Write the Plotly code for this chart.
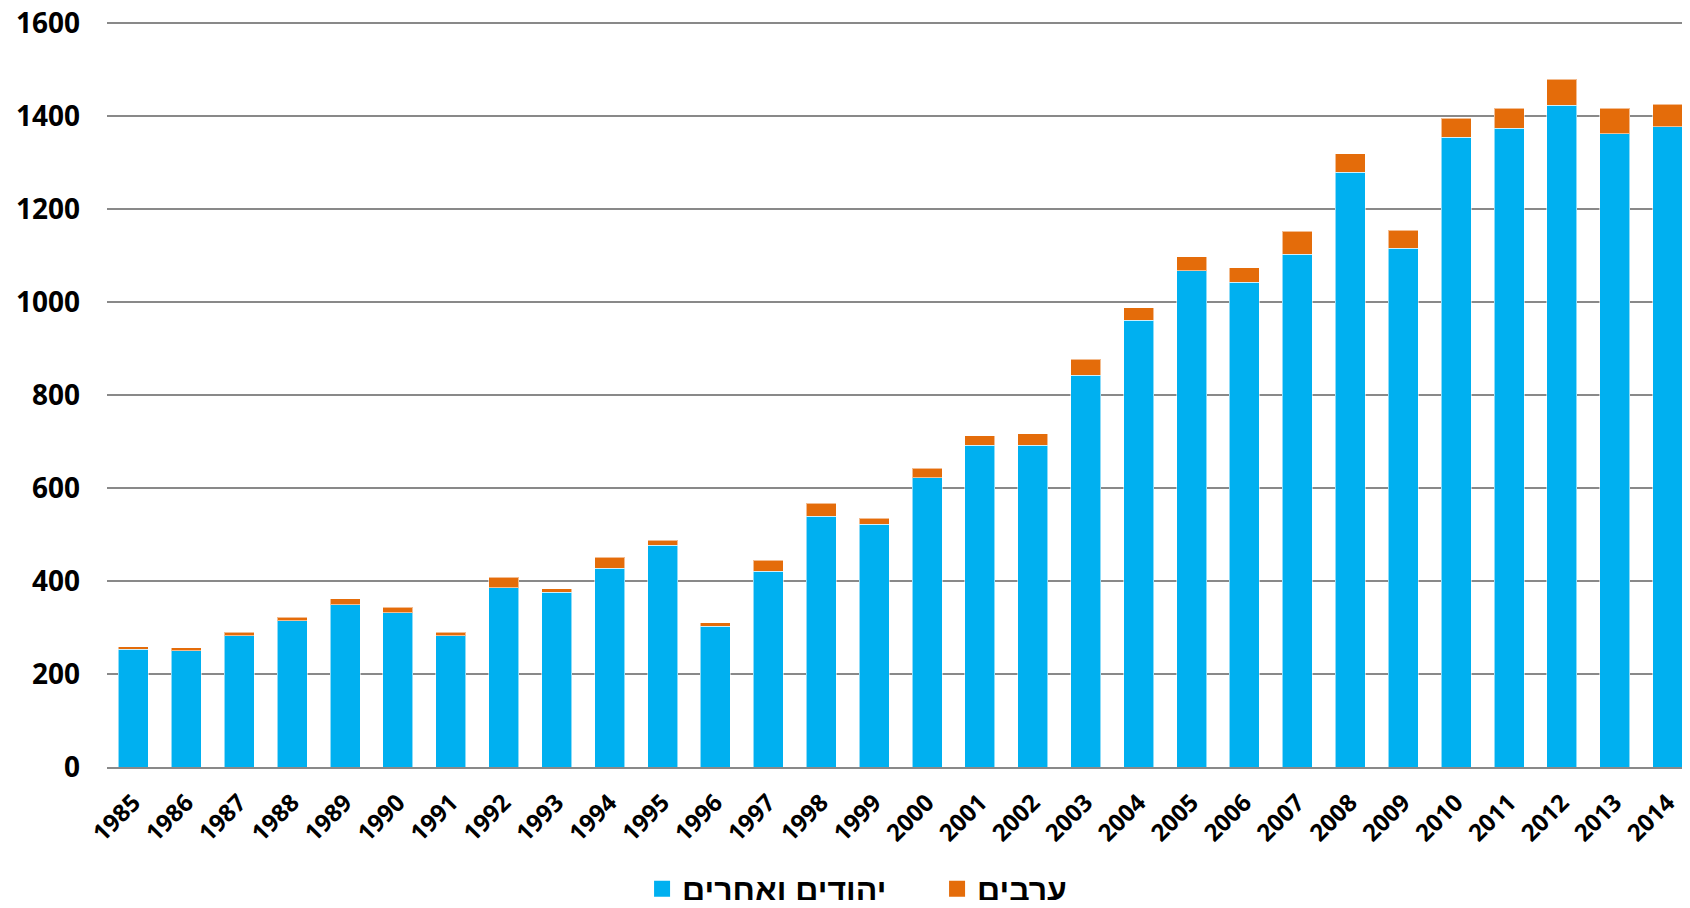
import plotly.graph_objects as go

years = [str(y) for y in range(1985, 2015)]
jews_others = [253, 250, 282, 314, 349, 332, 282, 385, 376, 427,
               477, 303, 421, 539, 522, 622, 692, 692, 842, 960,
               1067, 1042, 1102, 1279, 1115, 1354, 1373, 1423, 1361, 1376]
totals = [259, 256, 290, 322, 362, 344, 290, 408, 383, 451,
          488, 310, 444, 567, 535, 642, 712, 716, 877, 987,
          1097, 1073, 1152, 1318, 1154, 1395, 1416, 1479, 1416, 1425]
arabs = [t - j for t, j in zip(totals, jews_others)]

name_jews = "יהודים ואחרים"
name_arabs = "ערבים"

BLUE = "#00B0F0"
ORANGE = "#E46C0A"
GRID = "#898989"
FONT = "Open Sans, Liberation Sans, DejaVu Sans, sans-serif"
LEGFONT = "Liberation Sans, DejaVu Sans, sans-serif"

fig = go.Figure()
fig.add_trace(go.Bar(x=years, y=jews_others, name=name_jews, showlegend=False,
                     marker=dict(color=BLUE, line=dict(color="rgba(255,255,255,0.55)", width=1))))
fig.add_trace(go.Bar(x=years, y=arabs, name=name_arabs, showlegend=False,
                     marker=dict(color=ORANGE, line=dict(color="rgba(255,255,255,0.55)", width=1))))
# legend entries with larger square swatches
for nm, col in [(name_jews, BLUE), (name_arabs, ORANGE)]:
    fig.add_trace(go.Scatter(x=[None], y=[None], mode="markers", name=nm, showlegend=True,
                             marker=dict(symbol="square", size=20, color=col)))

fig.update_layout(
    barmode="stack",
    bargap=0.433,
    width=1674, height=892,
    margin=dict(l=99, r=0, t=12, b=133, autoexpand=False),
    paper_bgcolor="white", plot_bgcolor="white",
    font=dict(family=FONT, color="black"),
    showlegend=True,
    legend=dict(orientation="h", xref="container", yref="container",
                x=0.555, xanchor="center", y=0.0123, yanchor="middle",
                entrywidth=250, entrywidthmode="pixels",
                font=dict(size=32, family=LEGFONT, color="black", weight="bold"),
                itemsizing="trace", traceorder="normal"),
    xaxis=dict(type="category", range=[-0.5, 29.27], showgrid=False,
               showline=True, linecolor=GRID, linewidth=2,
               tickangle=-45, ticks="", ticklabelstandoff=10,
               tickfont=dict(size=24, family=FONT, color="black", weight="bold")),
    yaxis=dict(range=[0, 1606], tickvals=[0, 200, 400, 600, 800, 1000, 1200, 1400, 1600],
               showgrid=True, gridcolor=GRID, gridwidth=2, zeroline=False,
               showline=False, ticks="", ticklabelstandoff=26, ticklabeloverflow="allow",
               tickfont=dict(size=28, family=FONT, color="black", weight="bold")),
)

fig.write_html("out.html")
